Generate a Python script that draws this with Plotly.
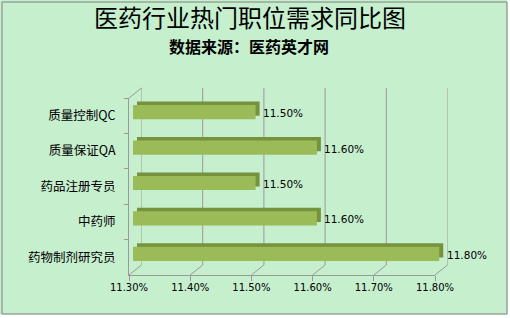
import plotly.graph_objects as go

# ---- data ----
categories = ["质量控制QC", "质量保证QA", "药品注册专员", "中药师", "药物制剂研究员"]
values = [11.50, 11.60, 11.50, 11.60, 11.80]
x_ticks = [11.3, 11.4, 11.5, 11.6, 11.7, 11.8]
x_tick_labels = ["11.30%", "11.40%", "11.50%", "11.60%", "11.70%", "11.80%"]
title_text = "医药行业热门职位需求同比图"
subtitle_text = "数据来源：医药英才网"

W, H = 510, 318
XR = [11.3, 11.8]
YR = [len(categories) - 0.5, -0.5]

def dx(a, b):
    return [a / W, b / W]

def dy(top, bottom):
    return [1 - bottom / H, 1 - top / H]

# pixel frames (front, bar face, bar depth, back wall)
FRONT = (129, 435, 98, 275)
FACE = (133, 439.5, 94.5, 271.5)
DEPTH = (137, 443.5, 91, 268)
BACK = (141.5, 447.5, 88, 265)

CJK = "Noto Sans CJK SC"
LAT = "DejaVu Sans"
GRID = "#999999"
FACE_C = "#9BBB59"
DARK_C = "#76923C"

fig = go.Figure()

# back wall gridlines (subplot 1)
gx, gy = [], []
for v in x_ticks:
    gx += [v, v, None]
    gy += [0, 1, None]
fig.add_trace(go.Scatter(x=gx, y=gy, mode="lines", line=dict(color=GRID, width=1),
                         hoverinfo="skip", showlegend=False, cliponaxis=False,
                         xaxis="x", yaxis="y"))
# bar depth (subplot 2)
fig.add_trace(go.Bar(x=[v - XR[0] for v in values], base=XR[0], y=categories, orientation="h",
                     width=0.4, marker=dict(color=DARK_C, line=dict(width=0)),
                     hoverinfo="skip", showlegend=False, xaxis="x2", yaxis="y2"))
# bar face (subplot 3)
fig.add_trace(go.Bar(x=[v - XR[0] for v in values], base=XR[0], y=categories, orientation="h",
                     width=0.4, marker=dict(color=FACE_C, line=dict(width=0)),
                     hoverinfo="skip", showlegend=False, xaxis="x3", yaxis="y3"))
# front axes (subplot 4)
fig.add_trace(go.Scatter(x=values, y=categories, mode="markers", marker=dict(opacity=0),
                         hoverinfo="skip", showlegend=False, xaxis="x4", yaxis="y4"))

hidden = dict(showgrid=False, zeroline=False, showticklabels=False, ticks="", showline=False,
              automargin=False, fixedrange=True)

layout = dict(
    width=W, height=H,
    margin=dict(l=0, r=0, t=0, b=0),
    paper_bgcolor="#C6EFCE",
    plot_bgcolor="rgba(0,0,0,0)",
    showlegend=False,
    barmode="overlay",
    xaxis=dict(hidden, domain=dx(BACK[0], BACK[1]), range=XR, anchor="y"),
    yaxis=dict(hidden, domain=dy(BACK[2], BACK[3]), range=[0, 1], anchor="x"),
    xaxis2=dict(hidden, domain=dx(DEPTH[0], DEPTH[1]), range=XR, anchor="y2"),
    yaxis2=dict(hidden, domain=dy(DEPTH[2], DEPTH[3]), type="category",
                categoryorder="array", categoryarray=categories, range=YR, anchor="x2"),
    xaxis3=dict(hidden, domain=dx(FACE[0], FACE[1]), range=XR, anchor="y3"),
    yaxis3=dict(hidden, domain=dy(FACE[2], FACE[3]), type="category",
                categoryorder="array", categoryarray=categories, range=YR, anchor="x3"),
    xaxis4=dict(domain=dx(FRONT[0], FRONT[1]), range=XR, anchor="y4",
                showgrid=False, zeroline=False, showline=True, linecolor=GRID, linewidth=1,
                ticks="outside", ticklen=5, tickcolor=GRID, tickvals=x_ticks,
                ticktext=x_tick_labels, tickfont=dict(family=LAT, size=10, color="black"),
                ticklabelstandoff=-2,
                automargin=False, fixedrange=True),
    yaxis4=dict(domain=dy(FRONT[2], FRONT[3]), type="category",
                categoryorder="array", categoryarray=categories, range=YR, anchor="x4",
                showgrid=False, zeroline=False, showline=True, linecolor=GRID, linewidth=1,
                ticks="outside", ticklen=4, tickcolor=GRID, tickson="boundaries",
                ticklabelstandoff=10,
                tickfont=dict(family=CJK, size=12.5, color="black"),
                automargin=False, fixedrange=True),
)
fig.update_layout(**layout)

def fx(frame, v):
    return frame[0] + (v - XR[0]) / (XR[1] - XR[0]) * (frame[1] - frame[0])

def pline(x0, y0, x1, y1):
    return dict(type="line", xref="paper", yref="paper",
                x0=x0 / W, y0=1 - y0 / H, x1=x1 / W, y1=1 - y1 / H,
                line=dict(color=GRID, width=1), layer="below")

# outer frame: white outside, gray border
shapes = [
    dict(type="rect", xref="paper", yref="paper", x0=507.5 / W, x1=1, y0=0, y1=1,
         fillcolor="white", line=dict(width=0), layer="below"),
    dict(type="rect", xref="paper", yref="paper", x0=0, x1=1, y0=0, y1=1 - 314.5 / H,
         fillcolor="white", line=dict(width=0), layer="below"),
    dict(type="rect", xref="paper", yref="paper", x0=2 / W, x1=507 / W,
         y0=1 - 314 / H, y1=1 - 2 / H, fillcolor="rgba(0,0,0,0)",
         line=dict(color="#808080", width=1), layer="below"),
]
for v in x_ticks:
    shapes.append(pline(fx(FRONT, v), FRONT[3], fx(BACK, v), BACK[3]))
shapes.append(pline(FRONT[0], FRONT[2], BACK[0], BACK[2]))
fig.update_layout(shapes=shapes)

annotations = [
    dict(text=title_text, xref="paper", yref="paper", x=250 / W, y=1 - 17 / H,
         xanchor="center", yanchor="middle", showarrow=False,
         font=dict(family=CJK, size=24, color="black")),
    dict(text="<b>" + subtitle_text + "</b>", xref="paper", yref="paper", x=249 / W, y=1 - 46 / H,
         xanchor="center", yanchor="middle", showarrow=False,
         font=dict(family=CJK, size=16, color="black")),
]
for c, v in zip(categories, values):
    annotations.append(dict(text=f"{v:.2f}%", x=v, y=c, xref="x3", yref="y3",
                            xanchor="left", yanchor="middle", xshift=5, yshift=-1,
                            showarrow=False,
                            font=dict(family=LAT, size=10.5, color="black")))
fig.update_layout(annotations=annotations)

fig.write_html("out.html")
